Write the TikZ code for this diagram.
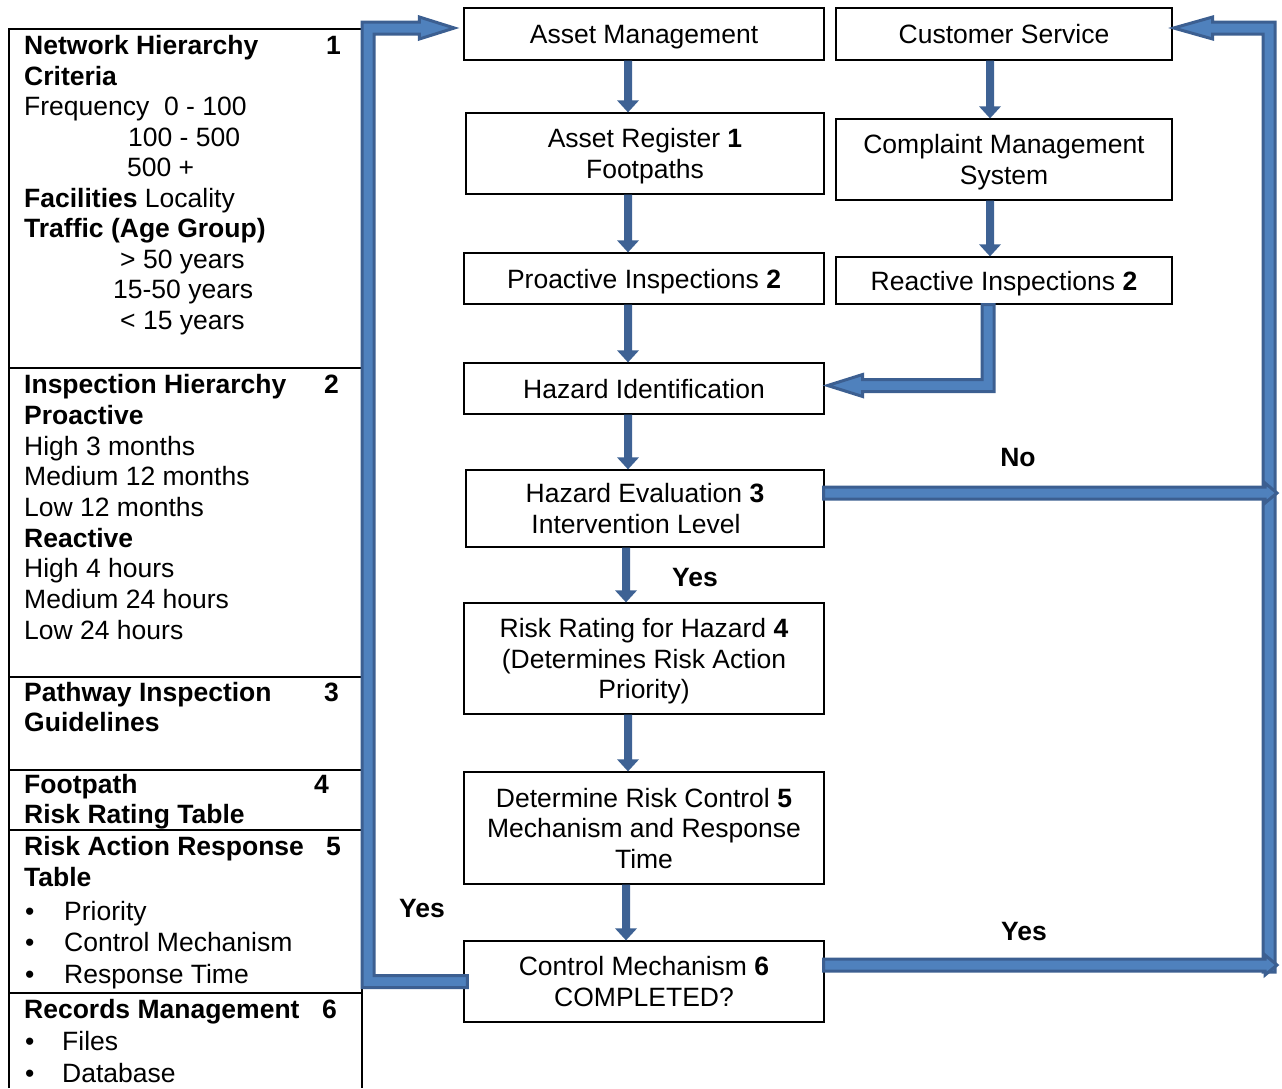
\documentclass[tikz,border=0pt]{standalone}
\usepackage{fontspec}
\setmainfont{Liberation Sans}
\usetikzlibrary{calc}
\definecolor{arrdark}{HTML}{3C5F91}
\definecolor{arrlight}{HTML}{4F81BD}
\definecolor{arrsolid}{HTML}{3E6294}
\newcommand\fs{\fontsize{26.5}{30.5}\selectfont}
\newcommand\sst{\rule[-5.75pt]{0pt}{30.5pt}}
\newcommand\vdarrow[2]{\fill[arrsolid] ($(#1)+(-4,0)$) -- ($(#2)+(-4,-12)$) -- ($(#2)+(-11,-12)$) -- (#2) -- ($(#2)+(11,-12)$) -- ($(#2)+(4,-12)$) -- ($(#1)+(4,0)$) -- cycle;}
\begin{document}
\begin{tikzpicture}[x=1pt,y=-1pt,
  box/.style={draw, line width=1.3pt, inner sep=0pt, align=center, font=\fs},
  lt/.style={anchor=base west, inner sep=0pt, font=\fs},
  lbl/.style={inner sep=0pt, font=\fs\bfseries},
  bigarr/.style={fill=arrlight, draw=arrdark, line width=3pt, line join=miter},
  panel/.style={line width=1.3pt}]
\useasboundingbox (0,0) rectangle (1282,1088);

% ---------- left panel ----------
\draw[panel] (9,1088) -- (9,29) -- (362,29) -- (362,1088);
\foreach \yy in {368,677,770,830,993} \draw[panel] (9,\yy) -- (362,\yy);

\node[lt] (t1) at (24,54) {\textbf{Network Hierarchy}};
\node[lt] (n1) at (326,54) {\textbf{1}};
\node[lt] (t2) at (24,85) {\textbf{Criteria}};
\node[lt] (t3) at (24,115.5) {Frequency\ \ 0 - 100};
\node[lt] (t4) at (128,146) {100 - 500};
\node[lt] (t5) at (127,176.5) {500 +};
\node[lt] (t6) at (24,207) {\textbf{Facilities} Locality};
\node[lt] (t7) at (24,237.5) {\textbf{Traffic (Age Group)}};
\node[lt] (t8) at (120,268) {> 50 years};
\node[lt] (t9) at (113,298.5) {15-50 years};
\node[lt] (t10) at (120,329) {< 15 years};

\node[lt] (u1) at (24,393) {\textbf{Inspection Hierarchy}};
\node[lt] (n2) at (324,393) {\textbf{2}};
\node[lt] (u2) at (24,424) {\textbf{Proactive}};
\node[lt] (u3) at (24,455) {High 3 months};
\node[lt] (u4) at (24,485.5) {Medium 12 months};
\node[lt] (u5) at (24,516) {Low 12 months};
\node[lt] (u6) at (24,547) {\textbf{Reactive}};
\node[lt] (u7) at (24,577.5) {High 4 hours};
\node[lt] (u8) at (24,608) {Medium 24 hours};
\node[lt] (u9) at (24,639) {Low 24 hours};

\node[lt] (v1) at (24,701) {\textbf{Pathway Inspection}};
\node[lt] (n3) at (324,701) {\textbf{3}};
\node[lt] (v2) at (24,731) {\textbf{Guidelines}};

\node[lt] (w1) at (24,793) {\textbf{Footpath}};
\node[lt] (n4) at (314,793) {\textbf{4}};
\node[lt] (w2) at (24,823) {\textbf{Risk Rating Table}};

\node[lt] (x1) at (24,855) {\textbf{Risk Action Response}};
\node[lt] (n5) at (326,855) {\textbf{5}};
\node[lt] (x2) at (24,886) {\textbf{Table}};
\node[lt] (b1) at (25,920) {\textbullet};
\node[lt] (x3) at (64,920) {Priority};
\node[lt] (b2) at (25,951.5) {\textbullet};
\node[lt] (x4) at (64,951.5) {Control Mechanism};
\node[lt] (b3) at (25,983) {\textbullet};
\node[lt] (x5) at (64,983) {Response Time};

\node[lt] (y1) at (24,1018) {\textbf{Records Management}};
\node[lt] (n6) at (322,1018) {\textbf{6}};
\node[lt] (b4) at (25,1050) {\textbullet};
\node[lt] (y2) at (62,1050) {Files};
\node[lt] (b5) at (25,1082) {\textbullet};
\node[lt] (y3) at (62,1082) {Database};

% ---------- flow boxes ----------
\node[box, minimum width=360pt, minimum height=52pt] (am) at (644,34) {\sst Asset Management};
\node[box, minimum width=336pt, minimum height=52pt] (cs) at (1004,34) {\sst Customer Service};
\node[box, minimum width=358pt, minimum height=81pt] (ar) at (645,153.5) {\sst Asset Register \textbf{1}\\\sst Footpaths};
\node[box, minimum width=336pt, minimum height=81pt] (cms) at (1004,159.5) {\sst Complaint Management\\\sst System};
\node[box, minimum width=360pt, minimum height=51pt] (pi) at (644,278.5) {\sst Proactive Inspections \textbf{2}};
\node[box, minimum width=336pt, minimum height=47pt] (ri) at (1004,280.5) {\sst Reactive Inspections \textbf{2}};
\node[box, minimum width=360pt, minimum height=51pt] (hi) at (644,388.5) {\sst Hazard Identification};
\node[box, minimum width=358pt, minimum height=77pt] (he) at (645,508.5) {\sst Hazard Evaluation \textbf{3}\\\sst Intervention Level\hspace*{18pt}};
\node[box, minimum width=360pt, minimum height=111pt] (rr) at (644,658.5) {\sst Risk Rating for Hazard \textbf{4}\\\sst (Determines Risk Action\\\sst Priority)};
\node[box, minimum width=360pt, minimum height=112pt] (dr) at (644,828) {\sst Determine Risk Control \textbf{5}\\\sst Mechanism and Response\\\sst Time};
\node[box, minimum width=360pt, minimum height=81pt] (cm) at (644,981.5) {\sst Control Mechanism \textbf{6}\\\sst COMPLETED?};

% ---------- labels ----------
\node[lbl] (lno) at (1018,457) {\sst No};
\node[lbl] (lyes1) at (695,577) {\sst Yes};
\node[lbl] (lyes2) at (422,908) {\sst Yes};
\node[lbl] (lyes3) at (1024,931) {\sst Yes};

% ---------- straight down arrows ----------
\coordinate (colA) at (628,0);
\coordinate (colC) at (626,0);
\coordinate (colB) at (990,0);
\coordinate (a1) at (am.south -| colA); \coordinate (a2) at (ar.north -| colA);
\coordinate (a3) at (ar.south -| colA); \coordinate (a4) at (pi.north -| colA);
\coordinate (a5) at (pi.south -| colA); \coordinate (a6) at (hi.north -| colA);
\coordinate (a7) at (hi.south -| colA); \coordinate (a8) at (he.north -| colA);
\coordinate (a9) at (he.south -| colC); \coordinate (a10) at (rr.north -| colC);
\coordinate (a11) at (rr.south -| colA); \coordinate (a12) at (dr.north -| colA);
\coordinate (a13) at (dr.south -| colC); \coordinate (a14) at (cm.north -| colC);
\coordinate (c1) at (cs.south -| colB); \coordinate (c2) at (cms.north -| colB);
\coordinate (c3) at (cms.south -| colB); \coordinate (c4) at (ri.north -| colB);
\vdarrow{a1}{a2}
\vdarrow{a3}{a4}
\vdarrow{a5}{a6}
\vdarrow{a7}{a8}
\vdarrow{a9}{a10}
\vdarrow{a11}{a12}
\vdarrow{a13}{a14}
\vdarrow{c1}{c2}
\vdarrow{c3}{c4}

% ---------- block arrows ----------
\coordinate (lx) at (368,0);
\coordinate (rx) at (1269,0);
\coordinate (lb) at (cm.west -| lx);
\coordinate (lt) at (am.west -| lx);
\coordinate (rt) at (cs.east -| rx);
\coordinate (rbase) at (cm.east -| rx);
\coordinate (rb) at ($(rbase)+(0,-9.5)$);
\coordinate (rno) at ($(he.east -| rx)+(0,-1)$);
\coordinate (heref) at ($(he.east)+(0,-1)$);
\coordinate (rih) at (ri.south |- hi.east);

% left loop: Control Mechanism -> Asset Management
\path[bigarr] ($(cm.west)+(4,6)$) -- ($(lb)+(-6,6)$) -- ($(lt)+(-6,-12)$)
  -- ($(am.west)+(-44,-12)$) -- ($(am.west)+(-44,-17)$) -- ($(am.west)+(-9,-6)$)
  -- ($(am.west)+(-44,5)$) -- ($(am.west)+(-44,0)$) -- ($(lt)+(6,0)$)
  -- ($(lb)+(6,-6)$) -- ($(cm.west)+(4,-6)$) -- cycle;

% right rail -> Customer Service
\path[bigarr] ($(rb)+(-6,0)$) -- ($(rt)+(-6,0)$) -- ($(cs.east)+(40,0)$)
  -- ($(cs.east)+(40,5)$) -- ($(cs.east)+(1,-6)$) -- ($(cs.east)+(40,-17)$)
  -- ($(cs.east)+(40,-12)$) -- ($(rt)+(6,-12)$) -- ($(rb)+(6,0)$) -- cycle;

% No: Hazard Evaluation -> rail
\path[bigarr] ($(heref)+(-1,-20.5)$) -- ($(rno)+(-4,-20.5)$) -- ($(rno)+(-4,-24.5)$)
  -- ($(rno)+(8,-14.5)$) -- ($(rno)+(-4,-4.5)$) -- ($(rno)+(-4,-8.5)$)
  -- ($(heref)+(-1,-8.5)$) -- cycle;

% Yes: Control Mechanism -> rail
\path[bigarr] ($(cm.east)+(-1,-22.5)$) -- ($(rbase)+(-4,-22.5)$) -- ($(rbase)+(-4,-26.5)$)
  -- ($(rbase)+(8,-16.5)$) -- ($(rbase)+(-4,-6.5)$) -- ($(rbase)+(-4,-10.5)$)
  -- ($(cm.east)+(-1,-10.5)$) -- cycle;

% Reactive Inspections -> Hazard Identification
\path[bigarr] ($(ri.south)+(-22,0)$) -- ($(ri.south)+(-10,0)$) -- ($(rih)+(-10,3)$)
  -- ($(hi.east)+(38,3)$) -- ($(hi.east)+(38,8)$) -- ($(hi.east)+(3,-3)$)
  -- ($(hi.east)+(38,-14)$) -- ($(hi.east)+(38,-9)$) -- ($(rih)+(-22,-9)$) -- cycle;
\end{tikzpicture}
\end{document}
